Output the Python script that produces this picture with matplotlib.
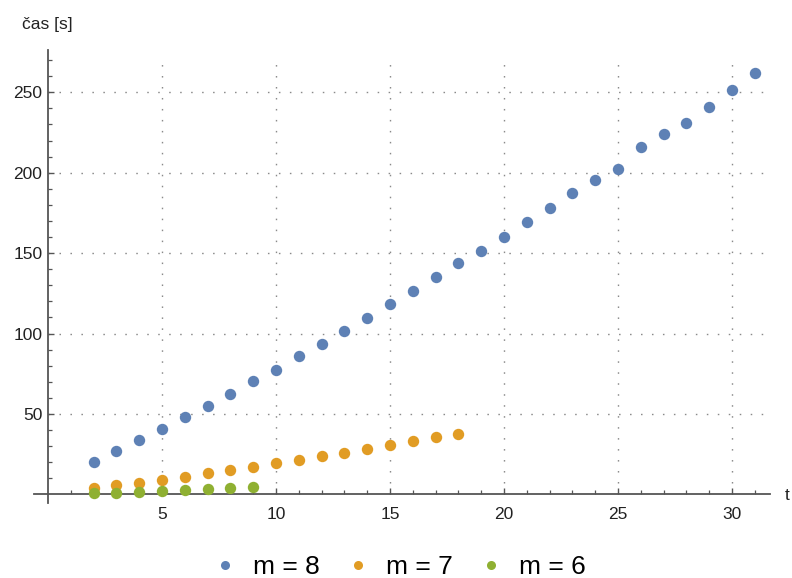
import matplotlib
matplotlib.use("Agg")
import matplotlib.pyplot as plt
from matplotlib.lines import Line2D
import numpy as np

plt.rcParams['font.family'] = ['Liberation Sans', 'DejaVu Sans']

# data
t8 = list(range(2, 32))
cas8 = [19.8, 26.7, 33.5, 40.7, 48.0, 55.2, 62.6, 70.2, 77.6, 85.9, 93.6, 101.7,
        109.8, 118.4, 126.4, 135.2, 143.9, 151.4, 160.1, 169.3, 178.0, 187.3,
        195.4, 202.2, 215.9, 224.0, 230.8, 240.8, 251.2, 261.7]
t7 = list(range(2, 19))
cas7 = [3.7, 5.6, 7.2, 9.1, 11.0, 13.0, 14.9, 17.0, 19.2, 21.3, 23.6, 25.9,
        28.1, 30.4, 32.9, 35.4, 37.8]
t6 = list(range(2, 10))
cas6 = [0.6, 1.0, 1.4, 2.1, 2.5, 3.1, 3.7, 4.5]

labels = ["m = 8", "m = 7", "m = 6"]
colors = ["#5E81B5", "#E19C24", "#8FB032"]

xticks = [5, 10, 15, 20, 25, 30]
yticks = [50, 100, 150, 200, 250]

W, H = 792, 578
fig = plt.figure(figsize=(W / 100, H / 100), dpi=100)
left_px, right_px, top_px, bot_px = 34.3, 770, 50, 503
ax = fig.add_axes([left_px / W, 1 - bot_px / H, (right_px - left_px) / W, (bot_px - top_px) / H])
ax.set_xlim(-0.6, 31.67)
ax.set_ylim(-5.4, 276.3)

axcol = "#555555"
for s in ["top", "right"]:
    ax.spines[s].set_visible(False)
ax.spines["left"].set_position(("data", 0))
ax.spines["bottom"].set_position(("data", 0))
for s in ["left", "bottom"]:
    ax.spines[s].set_color(axcol)
    ax.spines[s].set_linewidth(1.3)

# grid
gstyle = dict(color="#8a8a8a", linewidth=1.0, linestyle=(0, (1.1, 6.8)), zorder=0)
for xv in xticks:
    ax.plot([xv, xv], [0, 272], **gstyle)
for yv in yticks:
    ax.plot([0, 31.45], [yv, yv], **gstyle)

ax.set_xticks(xticks)
ax.set_yticks(yticks)
ax.set_xticks(list(range(1, 32)), minor=True)
ax.set_yticks(list(range(10, 280, 10)), minor=True)
ax.tick_params(axis="both", which="major", direction="in", length=4.5, width=1.0,
               color=axcol, labelsize=12.5, labelcolor="#222222")
ax.tick_params(axis="both", which="minor", direction="in", length=2.8, width=0.9, color=axcol)
ax.tick_params(axis="x", which="major", pad=9)
ax.tick_params(axis="y", which="major", pad=4)

handles = []
for xs, ys, c, lab in zip([t8, t7, t6], [cas8, cas7, cas6], colors, labels):
    ax.plot(xs, ys, linestyle="none", marker="o", markersize=8.2, color=c, zorder=3,
            markeredgewidth=0)
    handles.append(Line2D([], [], linestyle="none", marker="o", markersize=6.5,
                          color=c, markeredgewidth=0, label=lab))

fig.text(22 / W, 1 - 25 / H, "čas [s]", fontsize=12.5, va="center", ha="left", color="#222222")
fig.text(785 / W, 1 - 495 / H, "t", fontsize=12.5, va="center", ha="left", color="#222222")

leg = fig.legend(handles=handles, loc="center", bbox_to_anchor=(401 / W, 1 - 567 / H),
                 ncol=3, frameon=False, fontsize=19, handlelength=0.7,
                 handletextpad=0.71, columnspacing=1.09, borderpad=0, borderaxespad=0)

fig.savefig("out.png", dpi=100)
